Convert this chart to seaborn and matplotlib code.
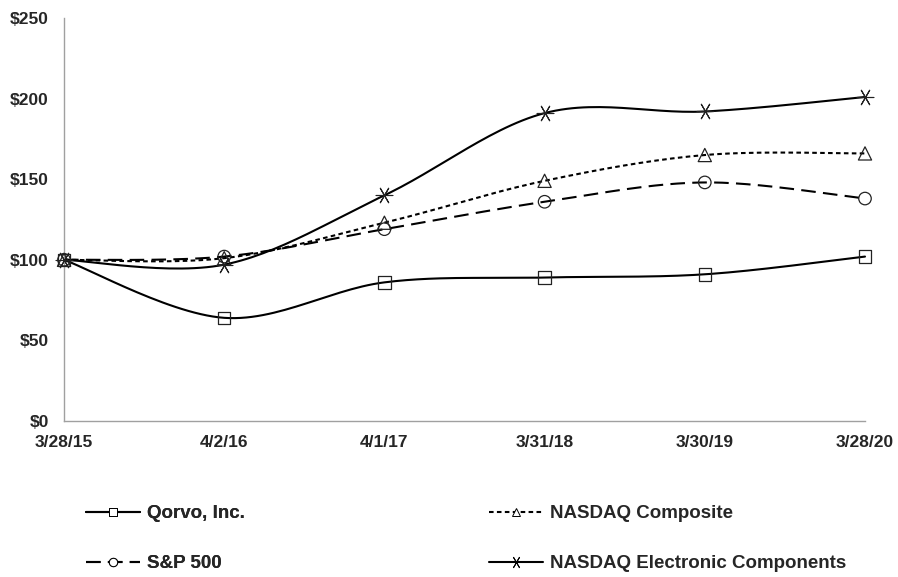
import numpy as np
import pandas as pd
import matplotlib.pyplot as plt
from matplotlib.lines import Line2D
import seaborn as sns

# data
dates = ["3/28/15", "4/2/16", "4/1/17", "3/31/18", "3/30/19", "3/28/20"]
qorvo = [100, 64, 86, 89, 91, 102]
nasdaq_comp = [100, 101, 123, 149, 165, 166]
sp500 = [100, 102, 119, 136, 148, 138]
nasdaq_elec = [100, 97, 140, 191, 192, 201]
y_ticks = [0, 50, 100, 150, 200, 250]

series = {
    "Qorvo, Inc.": qorvo,
    "NASDAQ Composite": nasdaq_comp,
    "S&P 500": sp500,
    "NASDAQ Electronic Components": nasdaq_elec,
}
star = (6, 2, 30)
styles = {
    "Qorvo, Inc.": dict(ls="-", marker="s", ms=9),
    "NASDAQ Composite": dict(ls=(0, (2.2, 1.6)), marker="^", ms=9.5),
    "S&P 500": dict(ls=(0, (7, 3.5)), marker="o", ms=9),
    "NASDAQ Electronic Components": dict(ls="-", marker=star, ms=12),
}

rows = []
for name, vals in series.items():
    for i, v in enumerate(vals):
        rows.append({"series": name, "pos": i, "value": v})
df = pd.DataFrame(rows)


def smooth(x, y, n=30):
    # Catmull-Rom style curve, like a smoothed spreadsheet line
    x = np.asarray(x, float)
    y = np.asarray(y, float)
    px = np.r_[x[0], x, x[-1]]
    py = np.r_[y[0], y, y[-1]]
    xs, ys = [], []
    t = np.linspace(0, 1, n)
    for k in range(1, len(px) - 2):
        p0, p1, p2, p3 = [np.array([px[j], py[j]]) for j in (k - 1, k, k + 1, k + 2)]
        c1 = p1 + (p2 - p0) / 6
        c2 = p2 - (p3 - p1) / 6
        b = (np.outer((1 - t) ** 3, p1) + np.outer(3 * (1 - t) ** 2 * t, c1)
             + np.outer(3 * (1 - t) * t ** 2, c2) + np.outer(t ** 3, p2))
        xs.append(b[:, 0])
        ys.append(b[:, 1])
    return np.concatenate(xs), np.concatenate(ys)


sns.set_style("white")
plt.rcParams["font.family"] = ["Liberation Sans", "DejaVu Sans"]
plt.rcParams["font.weight"] = "bold"

fig = plt.figure(figsize=(8.98, 5.77), dpi=100)
ax = fig.add_axes([64 / 898, 1 - 421 / 577, 801 / 898, 403 / 577])

for name in series:
    sub = df[df["series"] == name]
    st = styles[name]
    sx, sy = smooth(sub["pos"], sub["value"])
    ax.plot(sx, sy, color="black", lw=1.5, ls=st["ls"], zorder=2, clip_on=False)
    if st["marker"] == star:
        sns.scatterplot(data=sub, x="pos", y="value", marker=star, s=st["ms"] ** 2,
                        color="#222222", linewidth=0.8, ax=ax, zorder=3, legend=False,
                        clip_on=False)
    else:
        sns.scatterplot(data=sub, x="pos", y="value", marker=st["marker"], s=st["ms"] ** 2,
                        facecolor="none", edgecolor="#222222", linewidth=0.9,
                        ax=ax, zorder=3, legend=False, clip_on=False)

ax.set_xlim(0, len(dates) - 1)
ax.set_ylim(0, 250)
ax.set_xticks(range(len(dates)))
ax.set_xticklabels(dates, fontweight="bold", fontsize=12.5)
ax.set_yticks(y_ticks)
ax.set_yticklabels([f"${v}" for v in y_ticks], fontweight="bold", fontsize=12.5)
ax.set_xlabel("")
ax.set_ylabel("")
ax.tick_params(axis="x", length=4.5, width=0.8, color="#a0a0a0", direction="in", pad=10)
ax.tick_params(axis="y", length=3, width=0.8, color="#a0a0a0", direction="out", pad=8)
for s in ["top", "right"]:
    ax.spines[s].set_visible(False)
for s in ["left", "bottom"]:
    ax.spines[s].set_color("#a0a0a0")
    ax.spines[s].set_linewidth(1.0)


def handle(name):
    st = styles[name]
    if st["marker"] == star:
        return Line2D([], [], color="black", lw=1.5, ls="-", marker=star, ms=9,
                      markeredgewidth=0.7)
    return Line2D([], [], color="black", lw=1.5, ls=st["ls"], marker=st["marker"], ms=6,
                  markerfacecolor="white", markeredgewidth=0.7)


leg_kw = dict(loc="upper left", frameon=False, borderpad=0, borderaxespad=0,
              handlelength=2.9, handletextpad=0.35, labelspacing=1.75,
              prop={"size": 13.5, "weight": "bold"})
left_names = ["Qorvo, Inc.", "S&P 500"]
right_names = ["NASDAQ Composite", "NASDAQ Electronic Components"]
leg1 = fig.legend([handle(n) for n in left_names], left_names,
                  bbox_to_anchor=(86 / 898, 1 - 505 / 577), **leg_kw)
fig.add_artist(leg1)
fig.legend([handle(n) for n in right_names], right_names,
           bbox_to_anchor=(489 / 898, 1 - 505 / 577), **leg_kw)

fig.savefig("out.png", dpi=100)
